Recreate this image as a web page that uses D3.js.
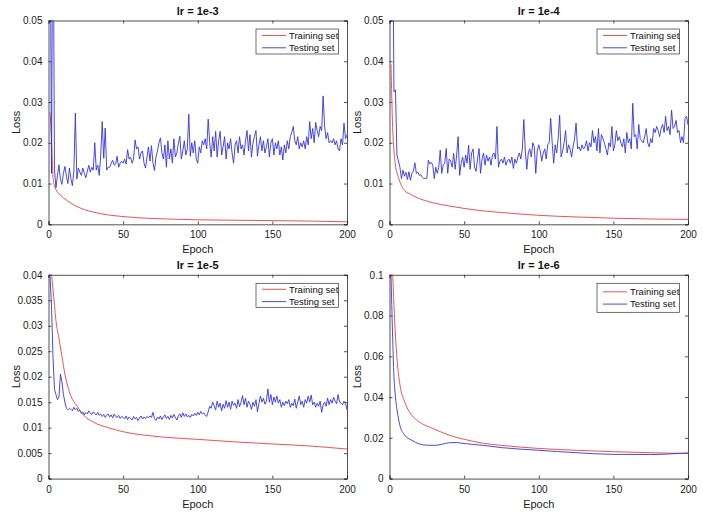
<!DOCTYPE html>
<html><head><meta charset="utf-8">
<script src="https://cdn.jsdelivr.net/npm/d3@7/dist/d3.min.js"></script>
<style>body{margin:0;background:#fff}svg{display:block}text{font-family:"Liberation Sans",Arial,sans-serif}</style>
</head><body>
<svg id="chart" width="703" height="515"></svg>
<script>
// ---------- data ----------
const titles = ["lr = 1e-3", "lr = 1e-4", "lr = 1e-5", "lr = 1e-6"];
const seriesNames = ["Training set", "Testing set"];
const xTicks = [0, 50, 100, 150, 200];
const yTicks1 = [0, 0.01, 0.02, 0.03, 0.04, 0.05];
const yTicks2 = [0, 0.01, 0.02, 0.03, 0.04, 0.05];
const yTicks3 = [0, 0.005, 0.01, 0.015, 0.02, 0.025, 0.03, 0.035, 0.04];
const yTicks4 = [0, 0.02, 0.04, 0.06, 0.08, 0.1];
const yTickLabels1 = ["0", "0.01", "0.02", "0.03", "0.04", "0.05"];
const yTickLabels2 = ["0", "0.01", "0.02", "0.03", "0.04", "0.05"];
const yTickLabels3 = ["0", "0.005", "0.01", "0.015", "0.02", "0.025", "0.03", "0.035", "0.04"];
const yTickLabels4 = ["0", "0.02", "0.04", "0.06", "0.08", "0.1"];
const yMax = [0.05, 0.05, 0.04, 0.1];

// training curves (epoch, loss)
const trainEpochs1 = [1, 2, 3, 4, 5, 7, 10, 15, 20, 25, 30, 40, 50, 60, 80, 100, 125, 150, 175, 200];
const train1 = [0.0275, 0.021, 0.0115, 0.0095, 0.0085, 0.0075, 0.0065, 0.0052, 0.0042, 0.0035, 0.003, 0.0023, 0.0019, 0.0016, 0.0013, 0.0011, 0.001, 0.0009, 0.0008, 0.0006];
const trainEpochs2 = [1, 2, 3, 4, 6, 8, 10, 14, 18, 24, 30, 40, 50, 60, 75, 100, 125, 150, 175, 200];
const train2 = [0.0393, 0.025, 0.018, 0.0145, 0.0115, 0.0095, 0.0083, 0.0074, 0.0066, 0.0058, 0.0052, 0.0045, 0.0039, 0.0034, 0.0029, 0.0022, 0.0018, 0.0015, 0.0013, 0.0012];
const trainEpochs3 = [1, 2, 3, 4, 5, 7, 9, 11, 13, 15, 19, 23, 30, 40, 50, 75, 100, 125, 150, 175, 200];
const train3 = [0.046, 0.0405, 0.0372, 0.034, 0.031, 0.0275, 0.024, 0.0205, 0.018, 0.0162, 0.0143, 0.0126, 0.0111, 0.0100, 0.0092, 0.0082, 0.0077, 0.0072, 0.0068, 0.0064, 0.0058];
const trainEpochs4 = [1, 2, 3, 4, 5, 7, 10, 15, 20, 30, 40, 50, 63, 75, 100, 125, 150, 175, 200];
const train4 = [0.14, 0.105, 0.085, 0.07, 0.059, 0.046, 0.038, 0.031, 0.0278, 0.0243, 0.0213, 0.0193, 0.0173, 0.0163, 0.0148, 0.0139, 0.0132, 0.0127, 0.0123];

// testing curves, one value per epoch 1..200 (panels 1-3), key epochs for panel 4
const test1 = [
0.090,0.0125,0.090,0.0135,0.0090,0.0120,0.0146,0.0110,0.0098,0.0125,
0.0142,0.0118,0.0100,0.0138,0.0112,0.0095,0.0130,0.0273,0.0111,0.0138,
0.0128,0.0120,0.0138,0.0125,0.0114,0.0130,0.0145,0.0128,0.0140,0.0133,
0.0200,0.0133,0.0145,0.0120,0.0170,0.0252,0.0162,0.0236,0.0133,0.0140,
0.0140,0.0150,0.0157,0.0145,0.0148,0.0167,0.0140,0.0150,0.0155,0.0150,
0.0160,0.0148,0.0183,0.0160,0.0165,0.0150,0.0160,0.0207,0.0185,0.0190,
0.0160,0.0175,0.0180,0.0150,0.0138,0.0165,0.0190,0.0155,0.0193,0.0150,
0.0132,0.0165,0.0180,0.0200,0.0212,0.0175,0.0160,0.0195,0.0140,0.0205,
0.0160,0.0185,0.0150,0.0210,0.0165,0.0175,0.0198,0.0216,0.0160,0.0180,
0.0205,0.0170,0.0185,0.0270,0.0167,0.0200,0.0175,0.0205,0.0160,0.0150,
0.0190,0.0175,0.0205,0.0195,0.0210,0.0185,0.0258,0.0200,0.0165,0.0215,
0.0180,0.0228,0.0165,0.0205,0.0228,0.0170,0.0190,0.0215,0.0160,0.0200,
0.0185,0.0210,0.0175,0.0150,0.0195,0.0205,0.0175,0.0215,0.0185,0.0195,
0.0170,0.0205,0.0230,0.0180,0.0220,0.0165,0.0200,0.0215,0.0230,0.0167,
0.0195,0.0215,0.0180,0.0205,0.0175,0.0190,0.0210,0.0165,0.0200,0.0210,
0.0170,0.0200,0.0185,0.0205,0.0170,0.0190,0.0158,0.0195,0.0175,0.0205,
0.0185,0.0215,0.0225,0.0240,0.0205,0.0195,0.0215,0.0185,0.0200,0.0190,
0.0205,0.0185,0.0215,0.0195,0.0252,0.0210,0.0235,0.0200,0.0250,0.0230,
0.0215,0.0240,0.0230,0.0315,0.0240,0.0210,0.0225,0.0200,0.0205,0.0200,
0.0210,0.0195,0.0205,0.0185,0.0180,0.0210,0.0195,0.0248,0.0210,0.0220];
const test2 = [
0.120,0.080,0.0325,0.0330,0.0170,0.0155,0.0140,0.0112,0.0133,0.0118,
0.0128,0.0110,0.0129,0.0108,0.0125,0.0130,0.0151,0.0125,0.0128,0.0120,
0.0122,0.0115,0.0112,0.0113,0.0112,0.0157,0.0148,0.0152,0.0145,0.0112,
0.0140,0.0125,0.0140,0.0182,0.0125,0.0145,0.0150,0.0186,0.0125,0.0160,
0.0155,0.0140,0.0174,0.0135,0.0170,0.0215,0.0120,0.0150,0.0165,0.0140,
0.0170,0.0150,0.0194,0.0135,0.0175,0.0185,0.0140,0.0130,0.0160,0.0186,
0.0125,0.0160,0.0175,0.0145,0.0170,0.0155,0.0165,0.0145,0.0170,0.0175,
0.0160,0.0240,0.0140,0.0155,0.0160,0.0150,0.0165,0.0145,0.0155,0.0160,
0.0150,0.0165,0.0137,0.0160,0.0150,0.0165,0.0175,0.0160,0.0185,0.0257,
0.0180,0.0135,0.0175,0.0185,0.0165,0.0200,0.0190,0.0125,0.0180,0.0195,
0.0180,0.0155,0.0175,0.0185,0.0160,0.0195,0.0200,0.0260,0.0200,0.0150,
0.0195,0.0175,0.0210,0.0268,0.0165,0.0180,0.0200,0.0230,0.0175,0.0195,
0.0185,0.0165,0.0190,0.0210,0.0248,0.0185,0.0190,0.0180,0.0195,0.0185,
0.0190,0.0205,0.0180,0.0200,0.0190,0.0230,0.0200,0.0215,0.0180,0.0235,
0.0175,0.0220,0.0210,0.0200,0.0185,0.0170,0.0200,0.0190,0.0240,0.0180,
0.0195,0.0230,0.0205,0.0215,0.0200,0.0190,0.0210,0.0175,0.0225,0.0200,
0.0210,0.0185,0.0297,0.0215,0.0220,0.0185,0.0245,0.0210,0.0205,0.0200,
0.0215,0.0235,0.0200,0.0190,0.0210,0.0200,0.0235,0.0225,0.0240,0.0230,
0.0215,0.0235,0.0245,0.0225,0.0265,0.0230,0.0240,0.0220,0.0280,0.0235,
0.0240,0.0255,0.0225,0.0230,0.0200,0.0215,0.0200,0.0260,0.0265,0.0244];
const test3 = [
0.0400,0.0340,0.0240,0.0175,0.0165,0.0155,0.0160,0.0205,0.0190,0.0165,
0.0150,0.0138,0.0135,0.0138,0.0136,0.0133,0.0140,0.0135,0.0138,0.0132,
0.0134,0.0128,0.0131,0.0125,0.0130,0.0127,0.0133,0.0128,0.0126,0.0131,
0.0127,0.0125,0.0130,0.0124,0.0127,0.0122,0.0126,0.0120,0.0124,0.0127,
0.0121,0.0125,0.0119,0.0127,0.0122,0.0120,0.0124,0.0118,0.0122,0.0120,
0.0117,0.0123,0.0116,0.0121,0.0118,0.0115,0.0122,0.0117,0.0120,0.0114,
0.0119,0.0123,0.0117,0.0121,0.0118,0.0122,0.0119,0.0123,0.0120,0.0130,
0.0118,0.0114,0.0121,0.0117,0.0123,0.0116,0.0121,0.0125,0.0118,0.0122,
0.0116,0.0124,0.0119,0.0126,0.0120,0.0115,0.0123,0.0127,0.0120,0.0129,
0.0122,0.0127,0.0121,0.0124,0.0120,0.0126,0.0123,0.0128,0.0124,0.0130,
0.0125,0.0132,0.0127,0.0129,0.0124,0.0122,0.0131,0.0142,0.0138,0.0150,
0.0143,0.0135,0.0152,0.0140,0.0148,0.0133,0.0146,0.0138,0.0153,0.0140,
0.0150,0.0136,0.0152,0.0144,0.0148,0.0138,0.0155,0.0141,0.0150,0.0163,
0.0145,0.0158,0.0140,0.0152,0.0146,0.0136,0.0150,0.0142,0.0155,0.0131,
0.0148,0.0162,0.0150,0.0158,0.0146,0.0152,0.0176,0.0150,0.0165,0.0145,
0.0160,0.0150,0.0162,0.0148,0.0155,0.0140,0.0150,0.0143,0.0152,0.0147,
0.0155,0.0140,0.0148,0.0143,0.0156,0.0138,0.0150,0.0162,0.0145,0.0152,
0.0140,0.0155,0.0148,0.0162,0.0150,0.0164,0.0145,0.0150,0.0140,0.0148,
0.0142,0.0152,0.0130,0.0145,0.0150,0.0142,0.0158,0.0145,0.0155,0.0148,
0.0160,0.0152,0.0147,0.0165,0.0150,0.0148,0.0145,0.0152,0.0148,0.0135];
const testEpochs4 = [1, 2, 3, 4, 5, 7, 10, 15, 20, 25, 30, 35, 40, 45, 50, 63, 75, 100, 125, 150, 175, 185, 200];
const test4 = [0.100, 0.072, 0.050, 0.040, 0.034, 0.026, 0.0215, 0.0188, 0.0170, 0.0164, 0.0163, 0.0168, 0.0176, 0.0177, 0.0172, 0.0163, 0.0152, 0.0139, 0.0127, 0.0119, 0.0118, 0.0120, 0.0126];

// ---------- drawing ----------
const svg = d3.select("#chart");
const red = "#e8413f", blue = "#3434e0", axisCol = "#262626";
const cols = [48.5, 389.5], rows = [20.5, 274.8], pw = 298.5, ph = 203.8;

const panels = [
  {title: titles[0], col: 0, row: 0, yMax: yMax[0], yTicks: yTicks1, yLabels: yTickLabels1,
   train: trainEpochs1.map((e, i) => [e, train1[i]]), test: test1.map((v, i) => [i + 1, v]), smoothTest: false, legH: 25},
  {title: titles[1], col: 1, row: 0, yMax: yMax[1], yTicks: yTicks2, yLabels: yTickLabels2,
   train: trainEpochs2.map((e, i) => [e, train2[i]]), test: test2.map((v, i) => [i + 1, v]), smoothTest: false, legH: 25},
  {title: titles[2], col: 0, row: 1, yMax: yMax[2], yTicks: yTicks3, yLabels: yTickLabels3,
   train: trainEpochs3.map((e, i) => [e, train3[i]]), test: test3.map((v, i) => [i + 1, v]), smoothTest: false, legH: 24},
  {title: titles[3], col: 1, row: 1, yMax: yMax[3], yTicks: yTicks4, yLabels: yTickLabels4,
   train: trainEpochs4.map((e, i) => [e, train4[i]]), test: testEpochs4.map((e, i) => [e, test4[i]]), smoothTest: true, legH: 29}
];

panels.forEach((p, k) => {
  const left = cols[p.col], top = rows[p.row];
  const x = d3.scaleLinear().domain([0, 200]).range([left, left + pw]);
  const y = d3.scaleLinear().domain([0, p.yMax]).range([top + ph, top]);
  const g = svg.append("g");

  const clipId = "clip" + k;
  svg.append("clipPath").attr("id", clipId).append("rect")
    .attr("x", left).attr("y", top).attr("width", pw).attr("height", ph);

  // axes (ticks inward, box)
  const fs = "10px";
  const xb = g.append("g").attr("transform", `translate(0,${top + ph})`)
    .call(d3.axisBottom(x).tickValues(xTicks).tickSize(-3).tickPadding(7).tickFormat(d3.format("d")));
  const xt = g.append("g").attr("transform", `translate(0,${top})`)
    .call(d3.axisTop(x).tickValues(xTicks).tickSize(-3).tickFormat(""));
  const yl = g.append("g").attr("transform", `translate(${left},0)`)
    .call(d3.axisLeft(y).tickValues(p.yTicks).tickSize(-3).tickPadding(6).tickFormat((d, i) => p.yLabels[i]));
  const yr = g.append("g").attr("transform", `translate(${left + pw},0)`)
    .call(d3.axisRight(y).tickValues(p.yTicks).tickSize(-3).tickFormat(""));
  [xb, xt, yl, yr].forEach(a => {
    a.select(".domain").attr("stroke", axisCol).attr("stroke-width", 0.8);
    a.selectAll(".tick line").attr("stroke", axisCol).attr("stroke-width", 0.8);
    a.selectAll("text").attr("fill", "#1a1a1a").style("font-size", fs)
      .style("font-family", '"Liberation Sans", Arial, sans-serif');
  });

  // lines
  const lineSmooth = d3.line().x(d => x(d[0])).y(d => y(d[1])).curve(d3.curveMonotoneX);
  const lineRaw = d3.line().x(d => x(d[0])).y(d => y(d[1]));
  const lg = g.append("g").attr("clip-path", `url(#${clipId})`);
  lg.append("path").attr("d", lineSmooth(p.train)).attr("fill", "none")
    .attr("stroke", red).attr("stroke-width", 0.9);
  lg.append("path").attr("d", (p.smoothTest ? lineSmooth : lineRaw)(p.test)).attr("fill", "none")
    .attr("stroke", blue).attr("stroke-width", 0.9).attr("stroke-linejoin", "round");

  // title and labels
  g.append("text").attr("x", left + pw / 2).attr("y", top - 6).attr("text-anchor", "middle")
    .style("font-size", "11px").style("font-weight", "bold").attr("fill", "#111").text(p.title);
  g.append("text").attr("x", left + pw / 2).attr("y", top + ph + 29).attr("text-anchor", "middle")
    .style("font-size", "11px").attr("fill", "#1a1a1a").text("Epoch");
  const lx = p.col === 0 ? 16 : 357.5;
  g.append("text").attr("transform", `translate(${lx},${top + ph / 2}) rotate(-90)`)
    .attr("text-anchor", "middle").attr("dy", "0.35em")
    .style("font-size", "11px").attr("fill", "#1a1a1a").text("Loss");

  // legend
  const lw = 82.5, lh = p.legH;
  const bx = left + pw - 8.5 - lw, by = top + 8.5;
  const leg = g.append("g");
  leg.append("rect").attr("x", bx).attr("y", by).attr("width", lw).attr("height", lh)
    .attr("fill", "#fff").attr("stroke", "#333").attr("stroke-width", 0.7);
  const rowY = [by + lh / 2 - 6, by + lh / 2 + 6.3];
  [red, blue].forEach((c, i) => {
    leg.append("line").attr("x1", bx + 6).attr("x2", bx + 30).attr("y1", rowY[i]).attr("y2", rowY[i])
      .attr("stroke", c).attr("stroke-width", 0.9);
    leg.append("text").attr("x", bx + 33).attr("y", rowY[i]).attr("dy", "0.35em")
      .style("font-size", "9.5px").attr("fill", "#111").text(seriesNames[i]);
  });
});
</script>
</body></html>
